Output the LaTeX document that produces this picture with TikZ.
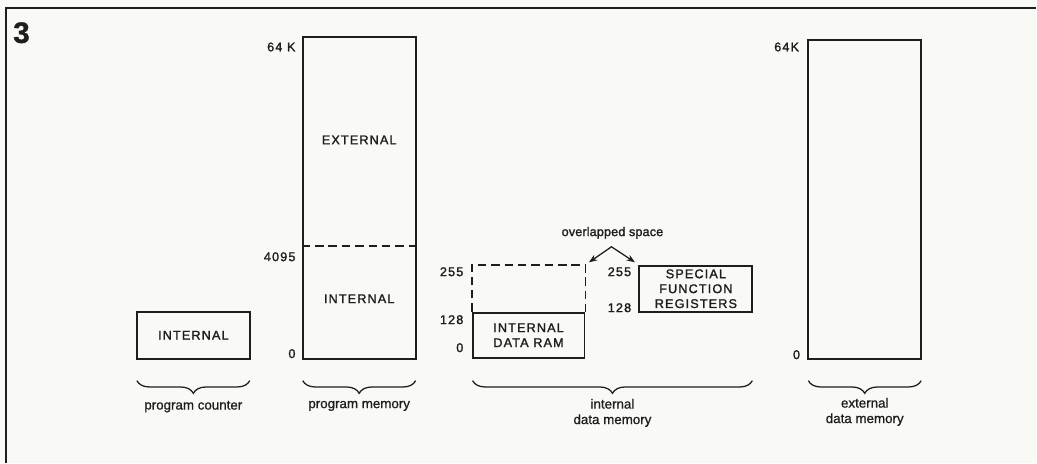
\documentclass[tikz,border=0pt]{standalone}
\usepackage{fontspec}
\setmainfont{Liberation Sans}[FakeBold=1.2]
\newfontfamily\spaced[LetterSpace=9,FakeBold=1.6]{Liberation Sans}
\newfontfamily\plain[FakeBold=0.9]{Liberation Sans}
\usepackage{xcolor}
\definecolor{paper}{RGB}{249,249,245}
\definecolor{ink}{RGB}{30,30,30}
\usetikzlibrary{positioning,arrows.meta,decorations.pathreplacing}

\begin{document}
\begin{tikzpicture}[x=0.025cm, y=-0.025cm,
  every node/.style={font=\plain\fontsize{9}{10}\selectfont, text=ink},
  mem/.style={draw=ink, line width=1.35pt, inner sep=0pt, align=center,
    font=\spaced\fontsize{9}{10.6}\selectfont},
  addr/.style={anchor=east, inner sep=0pt, font=\spaced\fontsize{9}{10}\selectfont},
  over/.style={draw=ink, line width=1.35pt, dash pattern=on 6pt off 3.5pt},
  span/.style={draw=ink, line width=0.9pt, decorate,
    decoration={brace, mirror, amplitude=9pt}},
  spanlbl/.style={anchor=north, align=center, inner sep=0pt,
    font=\plain\fontsize{9.5}{11}\selectfont},
  >={Stealth[length=6pt, width=4.5pt]}
]
\fill[paper] (0,0) rectangle (1037,463);
\draw[ink, line width=1.3pt] (6,463) -- (6,8) -- (1037,8);
\node[anchor=north west, inner sep=0pt, font=\bfseries\fontsize{21}{21}\selectfont] (fignum) at (13,22) {3};

% program counter and program memory
\node[mem, minimum width=2.825cm, minimum height=1.175cm] (pc) at (193.5,335.5) {INTERNAL};
\node[mem, minimum width=2.825cm, minimum height=8.05cm] (pm) at (359.5,198) {};
\coordinate (split) at (0,246);
\draw[over] (pm.west |- split) -- (pm.east |- split);
\node[font=\spaced\fontsize{9}{10}\selectfont] (pmext) at (359.5,140) {EXTERNAL};
\node[font=\spaced\fontsize{9}{10}\selectfont] (pmint) at (359.5,299) {INTERNAL};
\node[addr] (pmtop) at (296,47) {64 K};
\node[addr] (pmsplit) at (296,257) {4095};
\node[addr] (pmzero) at (296,354) {0};

% internal data memory
\node[mem, minimum width=2.8cm, minimum height=1.125cm] (ram) at (529,335.5) {INTERNAL\\DATA RAM};
\coordinate (ovtop) at (0,265);
\coordinate (ovne) at (ram.north east |- ovtop);
\draw[over] (ram.north west) -- (ram.north west |- ovtop) -- (ovne) -- (ram.north east);
\node[addr] (ramtop) at (464,272) {255};
\node[addr] (rammid) at (464,320) {128};
\node[addr] (ramzero) at (464,348) {0};
\node[mem, minimum width=2.825cm, minimum height=1.16cm] (sfr) at (696.5,289) {SPECIAL\\FUNCTION\\REGISTERS};
\node[addr] (sfrtop) at (632,272) {255};
\node[addr] (sfrlow) at (632,308) {128};
\node[font=\spaced\fontsize{9}{10}\addfontfeature{LetterSpace=1}\selectfont, inner sep=1pt] (ovl) at (613,233) {overlapped space};
\coordinate (apex) at (612,247);
\draw[ink, line width=0.9pt, <->, shorten <=3pt, shorten >=3pt] (ovne) -- (apex) -- (sfr.north west);

% external data memory
\node[mem, minimum width=2.825cm, minimum height=7.975cm] (xdm) at (865.5,199.5) {};
\node[addr] (xdmtop) at (800,47) {64K};
\node[addr] (xdmzero) at (801,355) {0};

% braces
\draw[span] (137,381) -- (250,381);
\draw[span] (303,381) -- (416,381);
\draw[span] (473,381) -- (753,381);
\draw[span] (809,381) -- (922,381);
\node[spanlbl] (pclbl) at (193.5,401) {program counter};
\node[spanlbl] (pmlbl) at (359.5,401) {program memory};
\node[spanlbl] (idmlbl) at (613,399) {internal\\data memory};
\node[spanlbl] (xdmlbl) at (865.5,398) {external\\data memory};
\end{tikzpicture}
\end{document}
